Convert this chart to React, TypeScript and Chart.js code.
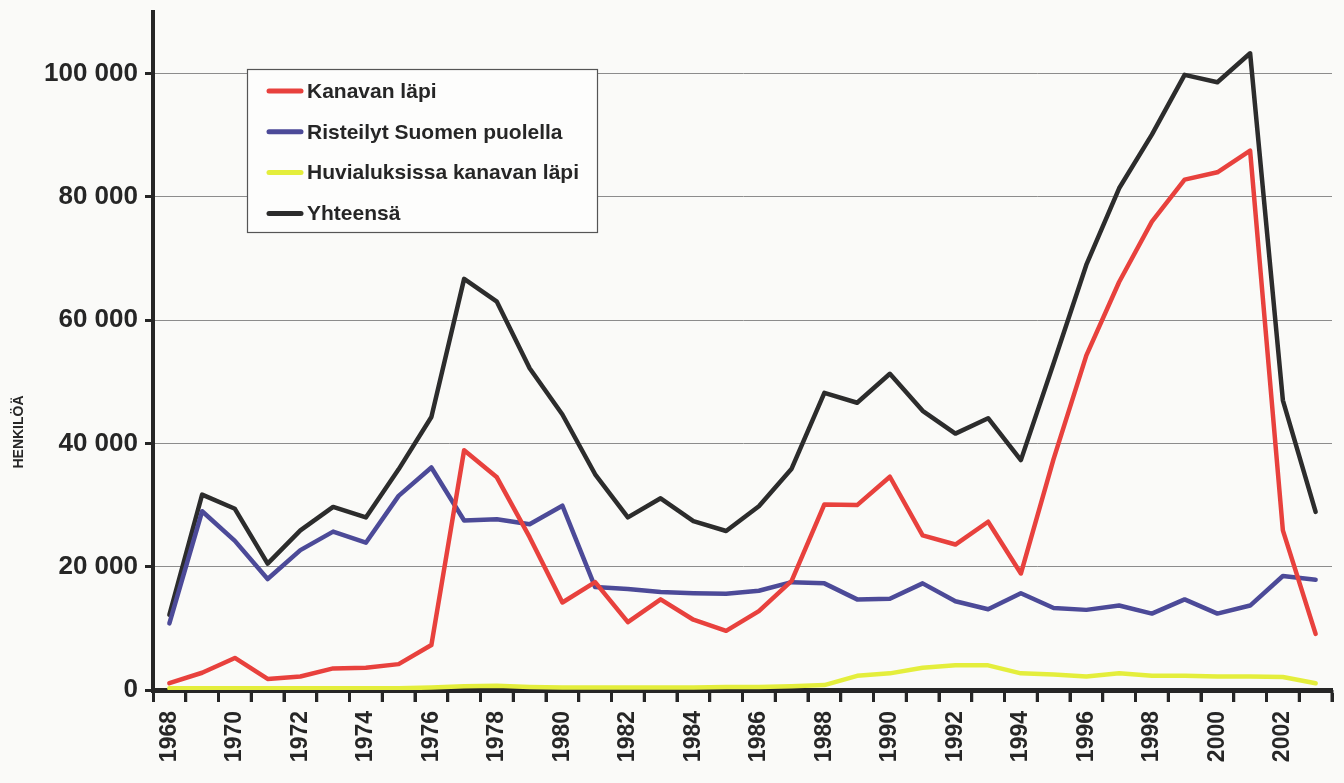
import React, { useEffect, useRef } from 'react';
import { Chart, registerables } from 'chart.js';

Chart.register(...registerables);

const years = [
  '1968', '1969', '1970', '1971', '1972', '1973', '1974', '1975', '1976', '1977',
  '1978', '1979', '1980', '1981', '1982', '1983', '1984', '1985', '1986', '1987',
  '1988', '1989', '1990', '1991', '1992', '1993', '1994', '1995', '1996', '1997',
  '1998', '1999', '2000', '2001', '2002', '2003',
];

const kanavanLapi = [
  1100, 2800, 5200, 1800, 2200, 3500, 3600, 4200, 7300, 38900,
  34500, 24800, 14200, 17500, 11000, 14700, 11400, 9600, 12800, 17700,
  30100, 30000, 34600, 25100, 23600, 27300, 18900, 37500, 54300, 66200,
  76000, 82800, 84000, 87500, 25900, 9100,
];

const risteilyt = [
  10800, 29000, 24200, 18000, 22700, 25700, 23900, 31500, 36100, 27500,
  27700, 26900, 29900, 16700, 16400, 15900, 15700, 15600, 16100, 17500,
  17300, 14700, 14800, 17300, 14400, 13100, 15700, 13300, 13000, 13700,
  12400, 14700, 12400, 13700, 18500, 17900,
];

const huvialuksissa = [
  300, 300, 300, 300, 300, 300, 300, 300, 400, 600,
  700, 500, 400, 400, 400, 400, 400, 500, 500, 600,
  800, 2300, 2700, 3600, 4000, 4000, 2700, 2500, 2200, 2700,
  2300, 2300, 2200, 2200, 2100, 1100,
];

const yhteensa = [
  12200, 31700, 29400, 20500, 25900, 29700, 28000, 35800, 44300, 66700,
  63000, 52200, 44700, 35000, 28000, 31100, 27400, 25800, 29800, 35900,
  48200, 46600, 51300, 45300, 41600, 44100, 37300, 53000, 69000, 81400,
  90100, 99800, 98600, 103300, 47000, 28900,
];

const yTicks = [0, 20000, 40000, 60000, 80000, 100000];
const seriesLabels = [
  'Kanavan läpi',
  'Risteilyt Suomen puolella',
  'Huvialuksissa kanavan läpi',
  'Yhteensä',
];
const yTitle = 'HENKILÖÄ';

const FONT = '"Liberation Sans", Arial, Helvetica, sans-serif';
const INK = '#262626';

const fmt = (v: number) => String(v).replace(/\B(?=(\d{3})+(?!\d))/g, ' ');

const backgroundPlugin = {
  id: 'bg',
  beforeDraw(chart: any) {
    const ctx = chart.ctx;
    ctx.save();
    ctx.fillStyle = '#fafaf8';
    ctx.fillRect(0, 0, chart.width, chart.height);
    ctx.restore();
  },
};

const legendBoxPlugin = {
  id: 'legendBox',
  afterDraw(chart: any) {
    const ctx = chart.ctx;
    ctx.save();
    const x0 = 247, y0 = 69, w = 350, h = 163;
    ctx.fillStyle = '#fdfdfc';
    ctx.fillRect(x0, y0, w, h);
    ctx.strokeStyle = '#555';
    ctx.lineWidth = 1.2;
    ctx.strokeRect(x0 + 0.5, y0 + 0.5, w, h);
    chart.data.datasets.forEach((ds: any, i: number) => {
      const cy = 91 + i * 40.8;
      ctx.strokeStyle = ds.borderColor;
      ctx.lineWidth = 5;
      ctx.lineCap = 'round';
      ctx.beginPath();
      ctx.moveTo(269, cy);
      ctx.lineTo(301, cy);
      ctx.stroke();
      ctx.fillStyle = INK;
      ctx.font = `bold 21px ${FONT}`;
      ctx.textBaseline = 'middle';
      ctx.textAlign = 'left';
      ctx.fillText(ds.label, 307, cy + 1);
    });
    ctx.restore();
  },
};

const yTitlePlugin = {
  id: 'yTitle',
  afterDraw(chart: any) {
    const ctx = chart.ctx;
    ctx.save();
    ctx.translate(19, 432);
    ctx.rotate(-Math.PI / 2);
    ctx.fillStyle = INK;
    ctx.font = `bold 14px ${FONT}`;
    ctx.textAlign = 'center';
    ctx.textBaseline = 'middle';
    ctx.fillText(yTitle, 0, 0);
    ctx.restore();
  },
};

// Short downward tick marks at category boundaries on the x axis
const xTickMarksPlugin = {
  id: 'xTickMarks',
  afterDraw(chart: any) {
    const ctx = chart.ctx;
    const xs = chart.scales.x;
    const area = chart.chartArea;
    const n = years.length;
    const step = (area.right - area.left) / n;
    ctx.save();
    ctx.strokeStyle = INK;
    ctx.lineWidth = 3;
    ctx.lineCap = 'butt';
    for (let i = 1; i <= n; i++) {
      const x = xs.getPixelForValue(i - 1) + step / 2;
      ctx.beginPath();
      ctx.moveTo(x, area.bottom);
      ctx.lineTo(x, area.bottom + 12);
      ctx.stroke();
    }
    ctx.restore();
  },
};

export default function App() {
  const canvasRef = useRef<HTMLCanvasElement | null>(null);

  useEffect(() => {
    if (!canvasRef.current) return;
    const common = {
      pointRadius: 0,
      pointHoverRadius: 0,
      borderWidth: 4.5,
      tension: 0,
      borderJoinStyle: 'round' as const,
      borderCapStyle: 'round' as const,
      fill: false,
    };
    const chart = new Chart(canvasRef.current, {
      type: 'line',
      data: {
        labels: years,
        datasets: [
          { ...common, label: seriesLabels[0], data: kanavanLapi, borderColor: '#e8413d', backgroundColor: '#e8413d' },
          { ...common, label: seriesLabels[1], data: risteilyt, borderColor: '#4c4a98', backgroundColor: '#4c4a98' },
          { ...common, label: seriesLabels[2], data: huvialuksissa, borderColor: '#e4ee3c', backgroundColor: '#e4ee3c' },
          { ...common, label: seriesLabels[3], data: yhteensa, borderColor: '#2c2c2c', backgroundColor: '#2c2c2c' },
        ],
      },
      options: {
        responsive: false,
        animation: false,
        layout: { padding: { top: 12, right: 12, left: 0, bottom: 0 } },
        plugins: {
          legend: { display: false },
          tooltip: { enabled: false },
          title: { display: false },
        },
        scales: {
          x: {
            type: 'category',
            offset: true,
            grid: {
              offset: true,
              drawOnChartArea: false,
              drawTicks: true,
              tickLength: 12,
              tickWidth: 3,
              tickColor: INK,
            },
            border: { display: true, color: INK, width: 5 },
            ticks: {
              autoSkip: false,
              maxRotation: 90,
              minRotation: 90,
              padding: 9,
              color: INK,
              font: { family: FONT, size: 23, weight: 'bold' },
              callback: (_v: any, idx: number) => (idx % 2 === 0 ? years[idx] : ''),
            },
            afterFit: (s: any) => {
              s.height = 93;
              s.paddingLeft = 0;
              s.paddingRight = 0;
            },
          },
          y: {
            min: 0,
            max: 110000,
            afterBuildTicks: (s: any) => { s.ticks = yTicks.map((v) => ({ value: v })); },
            grid: {
              color: '#8c8c8c',
              lineWidth: 1,
              drawTicks: true,
              tickLength: 8,
              tickWidth: 3,
              tickColor: INK,
            },
            border: { display: true, color: INK, width: 4 },
            ticks: {
              padding: 7,
              color: INK,
              font: { family: FONT, size: 26, weight: 'bold' },
              callback: (v: any) => fmt(Number(v)),
            },
            afterFit: (s: any) => {
              s.width = 153;
              s.paddingTop = 0;
              s.paddingBottom = 0;
            },
          },
        },
      } as any,
      plugins: [backgroundPlugin, xTickMarksPlugin, legendBoxPlugin, yTitlePlugin],
    });
    return () => chart.destroy();
  }, []);

  return (
    <div style={{ position: 'fixed', left: 0, top: 0, width: 1344, height: 783, background: '#fafaf8' }}>
      <canvas ref={canvasRef} width={1344} height={783} style={{ display: 'block' }} />
    </div>
  );
}
